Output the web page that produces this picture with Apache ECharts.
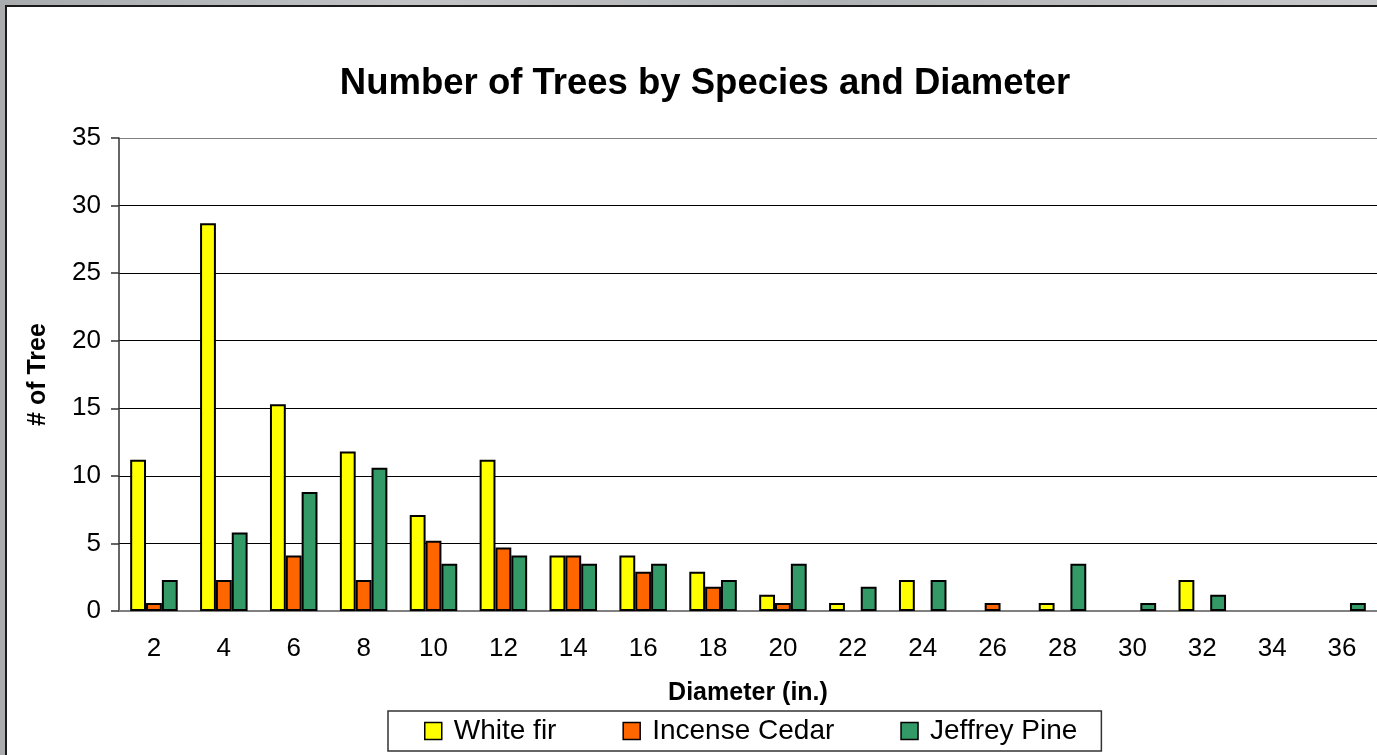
<!DOCTYPE html>
<html>
<head>
<meta charset="utf-8">
<script src="https://cdn.jsdelivr.net/npm/echarts@6/dist/echarts.min.js"></script>
<style>
  html, body { margin: 0; padding: 0; }
  body { width: 1377px; height: 755px; overflow: hidden; position: relative;
         background: linear-gradient(90deg, #a8acaf 0%, #c2c4c6 30%, #b0b3b5 60%, #c8c9ca 100%); }
  #frame { position: absolute; left: 5px; top: 5px; width: 1380px; height: 760px;
           background: #ffffff; border-left: 2px solid #1a1a1a; border-top: 2px solid #1a1a1a; }
  #chart { position: absolute; left: 0; top: 0; width: 1377px; height: 755px; }
</style>
</head>
<body>
<div id="frame"></div>
<div id="chart"></div>
<script>
// ---- data ----
const diameters = ['2','4','6','8','10','12','14','16','18','20','22','24','26','28','30','32','34','36'];
const whiteFir      = [11.2, 28.7, 15.3, 11.8, 7.1, 11.2, 4.1, 4.1, 2.9, 1.2, 0.6, 2.3, 0,   0.6, 0,   2.3, 0, 0];
const incenseCedar  = [0.6,  2.3,  4.1,  2.3,  5.2, 4.7,  4.1, 2.9, 1.8, 0.6, 0,   0,   0.6, 0,   0,   0,   0, 0];
const jeffreyPine   = [2.3,  5.8,  8.8,  10.6, 3.5, 4.1,  3.5, 3.5, 2.3, 3.5, 1.8, 2.3, 0,   3.5, 0.6, 1.2, 0, 0.6];
const yTicks = [0, 5, 10, 15, 20, 25, 30, 35];
const seriesNames = ['White fir', 'Incense Cedar', 'Jeffrey Pine'];
const seriesColors = ['#ffff00', '#ff6600', '#339966'];

const FONT = '"Liberation Sans", Arial, sans-serif';
const blankZero = arr => arr.map(v => (v === 0 ? '-' : v));

const chart = echarts.init(document.getElementById('chart'), null, { renderer: 'canvas' });
const seriesData = [whiteFir, incenseCedar, jeffreyPine];

chart.setOption({
  backgroundColor: 'transparent',
  animation: false,
  title: {
    text: 'Number of Trees by Species and Diameter',
    left: 700, top: 60, textAlign: 'center',
    textStyle: { fontFamily: FONT, fontWeight: 'bold', fontSize: 36.5, color: '#000' }
  },
  legend: {
    left: 388, top: 711,
    padding: [5, 24, 5, 36],
    itemGap: 66,
    itemWidth: 17, itemHeight: 17,
    borderColor: '#333', borderWidth: 1.5,
    backgroundColor: '#fff',
    icon: 'rect',
    textStyle: { fontFamily: FONT, fontSize: 28, color: '#000', padding: [0, 0, 0, 7], lineHeight: 30 },
    data: seriesNames.map((n, i) => ({ name: n, itemStyle: { color: seriesColors[i], borderColor: '#000', borderWidth: 1.5 } }))
  },
  grid: { left: 119, top: 138, width: 1261, height: 473, containLabel: false },
  xAxis: {
    type: 'category',
    data: diameters,
    boundaryGap: true,
    name: 'Diameter (in.)',
    nameLocation: 'middle',
    nameGap: 70,
    nameTextStyle: { fontFamily: FONT, fontWeight: 'bold', fontSize: 25, color: '#000' },
    axisLine: { lineStyle: { color: '#808080', width: 2 } },
    axisTick: { alignWithLabel: false, length: 7, lineStyle: { color: '#333', width: 1.5 } },
    axisLabel: { fontFamily: FONT, fontSize: 26, color: '#000', margin: 25 },
    splitLine: { show: false }
  },
  yAxis: {
    type: 'value',
    min: 0, max: 35, interval: 5,
    name: '# of Tree',
    nameLocation: 'middle',
    nameGap: 68,
    nameRotate: 90,
    nameTextStyle: { fontFamily: FONT, fontWeight: 'bold', fontSize: 25, color: '#000' },
    axisLine: { show: true, lineStyle: { color: '#333', width: 1.5 } },
    axisTick: { show: true, inside: false, length: 8, lineStyle: { color: '#333', width: 1.5 } },
    axisLabel: {
      fontFamily: FONT, fontSize: 26, color: '#000', margin: 18,
      formatter: v => (yTicks.includes(v) ? String(v) : '')
    },
    splitLine: { show: true, lineStyle: { color: ['#000','#000','#000','#000','#000','#000','#000','#808080'], width: 1.2 } }
  },
  series: seriesNames.map((n, i) => ({
    name: n,
    type: 'bar',
    data: blankZero(seriesData[i]),
    barGap: '0%',
    barCategoryGap: '32%',
    itemStyle: { color: seriesColors[i], borderColor: '#000', borderWidth: 2 }
  }))
});
</script>
</body>
</html>
